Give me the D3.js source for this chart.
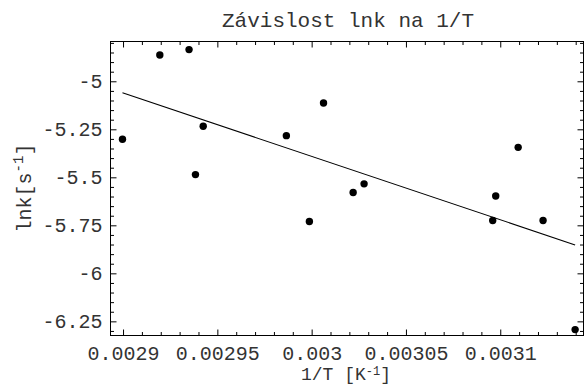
<!DOCTYPE html>
<html>
<head>
<meta charset="utf-8">
<script src="https://cdn.jsdelivr.net/npm/d3@7"></script>
<style>
  html, body { margin: 0; padding: 0; background: #fff; }
  svg { display: block; }
  text { font-family: "Liberation Mono", "Courier New", monospace; fill: #333; }
</style>
</head>
<body>
<svg id="chart" width="584" height="385"></svg>
<script>
// ---- data ----
const invT = [0.0028997, 0.0029195, 0.0029350, 0.0029384, 0.0029425, 0.0029866, 0.0029988,
              0.0030063, 0.0030220, 0.0030278, 0.0030960, 0.0030976, 0.0031095, 0.0031227, 0.0031397];
const lnk  = [-5.302, -4.863, -4.835, -5.486, -5.234, -5.283, -5.730,
              -5.113, -5.579, -5.534, -5.725, -5.597, -5.344, -5.725, -6.293];
const fitX = [0.0028997, 0.0031397];
const fitY = [-5.060, -5.852];
const xTicks = [0.0029, 0.00295, 0.003, 0.00305, 0.0031];
const xTickLabels = ["0.0029", "0.00295", "0.003", "0.00305", "0.0031"];
const yTicks = [-5, -5.25, -5.5, -5.75, -6, -6.25];
const yTickLabels = ["-5", "-5.25", "-5.5", "-5.75", "-6", "-6.25"];
const title = "Závislost lnk na 1/T";

// ---- layout ----
const L = 110.5, R = 583.5, T = 41.5, B = 335.5;
const x = d3.scaleLinear().domain([0.00289335, 0.00314414]).range([L, R]);
const y = d3.scaleLinear().domain([-4.7928, -6.3237]).range([T, B]);

const svg = d3.select("#chart");

// minor ticks
const xMinor = d3.range(0.00288, 0.003145, 0.00001).filter(v => v >= x.domain()[0] && v <= x.domain()[1]
  && !xTicks.some(t => Math.abs(t - v) < 1e-9));
const yMinor = d3.range(-4.8, -6.33, -0.05).filter(v => v <= y.domain()[0] && v >= y.domain()[1]
  && !yTicks.some(t => Math.abs(t - v) < 1e-9));

const fontSize = 20;
function styleAxis(g) {
  g.select(".domain").remove();
  g.selectAll("line").attr("stroke", "#000").attr("stroke-width", 1);
  g.selectAll("text").style("font-size", fontSize + "px").attr("fill", "#333");
}

// bottom axis
svg.append("g").attr("transform", `translate(0,${B})`)
  .call(d3.axisBottom(x).tickValues(xTicks).tickFormat((d, i) => xTickLabels[i]).tickSize(-6).tickPadding(10))
  .call(styleAxis);
svg.append("g").attr("transform", `translate(0,${B})`)
  .call(d3.axisBottom(x).tickValues(xMinor).tickFormat("").tickSize(-3.5))
  .call(styleAxis);
// top axis
svg.append("g").attr("transform", `translate(0,${T})`)
  .call(d3.axisTop(x).tickValues(xTicks).tickFormat("").tickSize(-6))
  .call(styleAxis);
svg.append("g").attr("transform", `translate(0,${T})`)
  .call(d3.axisTop(x).tickValues(xMinor).tickFormat("").tickSize(-3.5))
  .call(styleAxis);
// left axis
svg.append("g").attr("transform", `translate(${L},0)`)
  .call(d3.axisLeft(y).tickValues(yTicks).tickFormat((d, i) => yTickLabels[i]).tickSize(-6).tickPadding(8))
  .call(styleAxis);
svg.append("g").attr("transform", `translate(${L},0)`)
  .call(d3.axisLeft(y).tickValues(yMinor).tickFormat("").tickSize(-3.5))
  .call(styleAxis);
// right axis
svg.append("g").attr("transform", `translate(${R},0)`)
  .call(d3.axisRight(y).tickValues(yTicks).tickFormat("").tickSize(-6))
  .call(styleAxis);
svg.append("g").attr("transform", `translate(${R},0)`)
  .call(d3.axisRight(y).tickValues(yMinor).tickFormat("").tickSize(-3.5))
  .call(styleAxis);

// frame
svg.append("rect").attr("x", L).attr("y", T).attr("width", R - L).attr("height", B - T)
  .attr("fill", "none").attr("stroke", "#000").attr("stroke-width", 1);

// fit line
svg.append("path")
  .datum(fitX.map((v, i) => [v, fitY[i]]))
  .attr("d", d3.line().x(d => x(d[0])).y(d => y(d[1])))
  .attr("fill", "none").attr("stroke", "#000").attr("stroke-width", 1.1);

// points
svg.append("g").selectAll("circle")
  .data(invT.map((v, i) => [v, lnk[i]]))
  .join("circle")
  .attr("cx", d => x(d[0])).attr("cy", d => y(d[1])).attr("r", 3.7).attr("fill", "#000");

// title
svg.append("text").attr("x", 348).attr("y", 27).attr("text-anchor", "middle")
  .style("font-size", "21px").text(title);

// x axis label
const xl = svg.append("text").attr("x", 346).attr("y", 380).attr("text-anchor", "middle")
  .style("font-size", "18px");
xl.append("tspan").text("1/T [K");
xl.append("tspan").attr("dy", -5).style("font-size", "12px").text("-1");
xl.append("tspan").attr("dy", 5).text("]");

// y axis label
const yl = svg.append("text").attr("transform", "translate(31,188) rotate(-90)").attr("text-anchor", "middle")
  .style("font-size", fontSize + "px");
yl.append("tspan").text("lnk[s");
yl.append("tspan").attr("dy", -8).style("font-size", "14px").text("-1");
yl.append("tspan").attr("dy", 8).text("]");
</script>
</body>
</html>
